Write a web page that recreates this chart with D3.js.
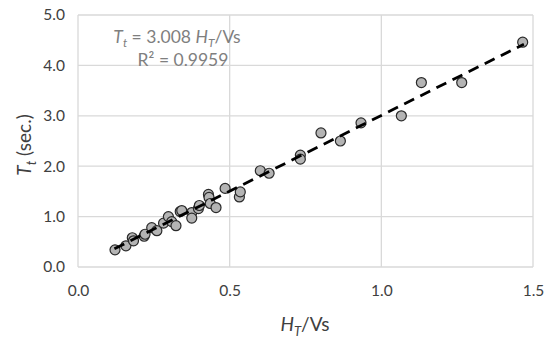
<!DOCTYPE html>
<html><head><meta charset="utf-8">
<script src="https://cdn.jsdelivr.net/npm/d3@7"></script>
<style>body{margin:0;background:#fff}svg{display:block}</style>
</head><body>
<script>
const xVals = [0.122,0.158,0.179,0.183,0.218,0.221,0.243,0.260,0.282,0.298,0.309,0.323,0.337,0.342,0.375,0.375,0.397,0.400,0.430,0.432,0.436,0.455,0.485,0.532,0.535,0.601,0.630,0.733,0.733,0.801,0.865,0.933,1.066,1.132,1.265,1.466];
const yVals = [0.34,0.42,0.58,0.52,0.61,0.65,0.78,0.72,0.87,1.00,0.90,0.82,1.10,1.12,1.08,0.97,1.16,1.22,1.44,1.38,1.26,1.18,1.56,1.39,1.49,1.91,1.86,2.22,2.14,2.66,2.50,2.86,3.00,3.66,3.66,4.46];
const xTicks = [0.0,0.5,1.0,1.5];
const yTicks = [0,1,2,3,4,5];
const slope = 3.008;
const fitRange = [0.12,1.47];

const W=550,H=341, m={l:78,r:17,t:15,b:74};
const svg=d3.select("body").append("svg").attr("width",W).attr("height",H);
const x=d3.scaleLinear().domain([0,1.5]).range([m.l,W-m.r]);
const y=d3.scaleLinear().domain([0,5]).range([H-m.b,m.t]);
const font="Lato, 'Open Sans', sans-serif";

// gridlines
svg.append("g").selectAll("line").data(yTicks).join("line")
 .attr("x1",x(0)).attr("x2",x(1.5)).attr("y1",d=>y(d)).attr("y2",d=>y(d))
 .attr("stroke","#d9d9d9").attr("stroke-width",1.3);
svg.append("g").selectAll("line").data(xTicks).join("line")
 .attr("y1",y(0)).attr("y2",y(5)).attr("x1",d=>x(d)).attr("x2",d=>x(d))
 .attr("stroke","#d9d9d9").attr("stroke-width",1.3);

// axes (labels only)
const xa=svg.append("g").attr("transform",`translate(0,${y(0)})`)
 .call(d3.axisBottom(x).tickValues(xTicks).tickFormat(d3.format(".1f")).tickSize(0).tickPadding(18));
const ya=svg.append("g").attr("transform",`translate(${x(0)},0)`)
 .call(d3.axisLeft(y).tickValues(yTicks).tickFormat(d3.format(".1f")).tickSize(0).tickPadding(13));
[xa,ya].forEach(a=>{a.select(".domain").remove();a.selectAll("text").attr("font-family",font).attr("font-size",15.5).attr("fill","#404040");});

// points
svg.append("g").selectAll("circle").data(xVals.map((v,i)=>[v,yVals[i]])).join("circle")
 .attr("cx",d=>x(d[0])).attr("cy",d=>y(d[1])).attr("r",5)
 .attr("fill","#b4b4b4").attr("stroke","#2a2a2a").attr("stroke-width",1.2);

// trendline
svg.append("line").attr("x1",x(fitRange[0])).attr("y1",y(slope*fitRange[0]))
 .attr("x2",x(fitRange[1])).attr("y2",y(slope*fitRange[1]))
 .attr("stroke","#000").attr("stroke-width",2.8).attr("stroke-dasharray","11,7");

// annotation
const ann=svg.append("text").attr("x",177).attr("y",43).attr("text-anchor","middle")
 .attr("font-family",font).attr("font-size",17.5).attr("fill","#7f7f7f");
ann.append("tspan").attr("font-style","italic").text("T");
ann.append("tspan").attr("font-style","italic").attr("font-size",12).attr("dy",4).text("t");
ann.append("tspan").attr("dy",-4).text(" = 3.008 ");
ann.append("tspan").attr("font-style","italic").text("H");
ann.append("tspan").attr("font-style","italic").attr("font-size",12).attr("dy",4).text("T");
ann.append("tspan").attr("dy",-4).text("/Vs");
svg.append("text").attr("x",183).attr("y",66).attr("text-anchor","middle")
 .attr("font-family",font).attr("font-size",17.5).attr("fill","#7f7f7f").text("R² = 0.9959");

// x title
const xt=svg.append("text").attr("x",305).attr("y",331).attr("text-anchor","middle")
 .attr("font-family",font).attr("font-size",19).attr("fill","#404040");
xt.append("tspan").attr("font-style","italic").text("H");
xt.append("tspan").attr("font-style","italic").attr("font-size",13).attr("dy",5).text("T");
xt.append("tspan").attr("dy",-5).text("/Vs");

// y title
const yt=svg.append("text").attr("transform","translate(31,145) rotate(-90)").attr("text-anchor","middle")
 .attr("font-family",font).attr("font-size",19).attr("fill","#404040");
yt.append("tspan").attr("font-style","italic").text("T");
yt.append("tspan").attr("font-style","italic").attr("font-size",13).attr("dy",5).text("t");
yt.append("tspan").attr("dy",-5).text(" (sec.)");
</script>
</body></html>
